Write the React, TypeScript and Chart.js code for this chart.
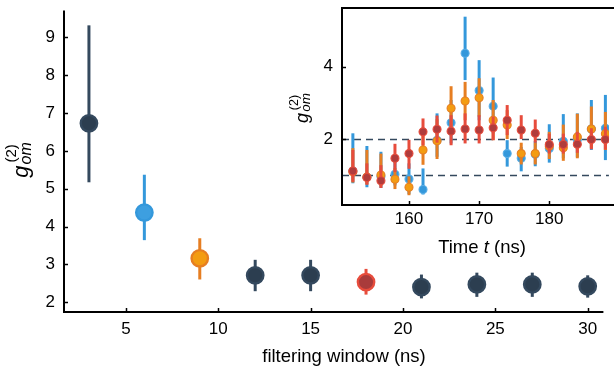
import React, { useEffect, useRef } from "react";
import { Chart, registerables } from "chart.js";
Chart.register(...registerables);

// ---------- main panel data ----------
const windows = [3, 6, 9, 12, 15, 18, 21, 24, 27, 30];
const g2Main = [6.73, 4.37, 3.16, 2.71, 2.71, 2.53, 2.4, 2.47, 2.47, 2.42];
const g2MainLow = [5.17, 3.64, 2.6, 2.29, 2.29, 2.2, 2.1, 2.14, 2.14, 2.12];
const g2MainHigh = [9.32, 5.37, 3.69, 3.12, 3.12, 2.88, 2.73, 2.78, 2.78, 2.71];
const mainXTicks = [5, 10, 15, 20, 25, 30];
const mainYTicks = [2, 3, 4, 5, 6, 7, 8, 9];

// ---------- inset data ----------
const times = [152, 154, 156, 158, 160, 162, 164, 166, 168, 170, 172, 174, 176, 178, 180, 182, 184, 186, 188];
const blueG2 = [1.12, 0.95, 0.97, 1.03, 0.9, 0.61, 1.97, 2.45, 4.37, 3.34, 2.91, 1.6, 1.47, 1.58, 1.74, 1.94, 1.98, 2.28, 2.3];
const blueLow = [0.78, 0.67, 0.65, 0.72, 0.48, 0.47, 1.51, 1.88, 3.63, 2.52, 2.16, 1.24, 1.11, 1.25, 1.35, 1.47, 1.5, 1.7, 1.42];
const blueHigh = [2.16, 1.81, 1.65, 1.4, 1.33, 1.19, 2.71, 3.08, 5.38, 4.18, 3.7, 1.97, 1.78, 1.95, 2.41, 2.69, 2.71, 3.08, 3.22];
const orangeG2 = [1.1, 0.95, 1.01, 0.89, 0.67, 1.7, 1.95, 2.85, 3.05, 3.14, 2.52, 2.39, 1.6, 1.6, 1.8, 1.76, 2.06, 2.28, 2.15];
const orangeLow = [0.8, 0.75, 0.7, 0.62, 0.45, 1.29, 1.45, 2.25, 2.52, 2.62, 1.97, 2.0, 1.3, 1.3, 1.45, 1.4, 1.47, 1.75, 1.7];
const orangeHigh = [1.75, 1.7, 1.6, 1.2, 0.97, 2.11, 2.55, 3.46, 3.58, 3.68, 3.08, 2.8, 1.9, 1.9, 2.2, 2.4, 2.7, 2.9, 2.75];
const redG2 = [1.12, 0.94, 0.85, 1.47, 1.6, 2.2, 2.27, 2.22, 2.28, 2.25, 2.31, 2.52, 2.25, 2.16, 1.85, 1.85, 1.86, 1.99, 1.99];
const redLow = [0.82, 0.74, 0.65, 1.09, 1.18, 1.83, 1.9, 1.83, 1.88, 1.88, 1.97, 2.11, 2.0, 1.9, 1.6, 1.6, 1.62, 1.72, 1.71];
const redHigh = [1.7, 1.33, 1.28, 1.87, 1.98, 2.57, 2.65, 2.66, 2.71, 2.66, 2.62, 2.94, 2.66, 2.54, 2.15, 2.15, 2.2, 2.3, 2.34];
const insetXTicks = [160, 170, 180];
const insetYTicks = [2, 4];
const insetRefLines = [1, 2];

// ---------- styles ----------
const FONT = '"Liberation Sans", Arial, Helvetica, sans-serif';
const TICK_SIZE = 17;
const TITLE_SIZE = 18.5;
const DARK = { fill: "#2c3e50", ring: "#34495e", bar: "#34495e" };
const BLUE = { fill: "#3d9fe0", ring: "#3498db", bar: "#3498db" };
const ORANGE = { fill: "#f39c12", ring: "#e67e22", bar: "#e67e22" };
const RED = { fill: "#a93b3b", ring: "#e74c3c", bar: "#e74c3c" };
const mainPointStyles = [DARK, BLUE, ORANGE, DARK, DARK, RED, DARK, DARK, DARK, DARK];

type Bars = { x: number[]; low: number[]; high: number[]; color: string | string[]; width: number };

function errorBars(bars: Bars[]) {
  return {
    id: "errbars",
    beforeDatasetDraw(chart: any, args: any) {
      const b = bars[args.index];
      if (!b) return;
      const { ctx, scales } = chart;
      const xs = scales.x, ys = scales.y;
      ctx.save();
      ctx.lineWidth = b.width;
      ctx.lineCap = "butt";
      b.x.forEach((xv, i) => {
        ctx.strokeStyle = Array.isArray(b.color) ? b.color[i] : b.color;
        const px = xs.getPixelForValue(xv);
        ctx.beginPath();
        ctx.moveTo(px, ys.getPixelForValue(b.low[i]));
        ctx.lineTo(px, ys.getPixelForValue(b.high[i]));
        ctx.stroke();
      });
      ctx.restore();
    },
  };
}

function drawG2Label(ctx: CanvasRenderingContext2D, bx: number, cy: number, gSize: number, subSize: number, supSize: number) {
  ctx.save();
  ctx.translate(bx, cy);
  ctx.rotate(-Math.PI / 2);
  ctx.fillStyle = "#000";
  ctx.textBaseline = "alphabetic";
  ctx.textAlign = "left";
  ctx.font = `italic ${gSize}px ${FONT}`;
  const wg = ctx.measureText("g").width;
  ctx.font = `italic ${subSize}px ${FONT}`;
  const wom = ctx.measureText("om").width;
  ctx.font = `${supSize}px ${FONT}`;
  const w2 = ctx.measureText("(2)").width;
  const total = wg + 1 + Math.max(wom, w2);
  const x0 = -total / 2;
  ctx.font = `italic ${gSize}px ${FONT}`;
  ctx.fillText("g", x0, 0);
  ctx.font = `italic ${subSize}px ${FONT}`;
  ctx.fillText("om", x0 + wg + 1, gSize * 0.12);
  ctx.font = `${supSize}px ${FONT}`;
  ctx.fillText("(2)", x0 + wg + 1 + (wom - w2) / 2, -gSize * 0.55);
  ctx.restore();
}

function inwardTicks(chart: any, xTicks: number[], yTicks: number[], len: number) {
  const { ctx, chartArea, scales } = chart;
  ctx.save();
  ctx.strokeStyle = "#000";
  ctx.lineWidth = 1.5;
  xTicks.forEach((v) => {
    const px = Math.round(scales.x.getPixelForValue(v)) + 0.5;
    ctx.beginPath();
    ctx.moveTo(px, chartArea.bottom);
    ctx.lineTo(px, chartArea.bottom - len);
    ctx.stroke();
  });
  yTicks.forEach((v) => {
    const py = Math.round(scales.y.getPixelForValue(v)) + 0.5;
    ctx.beginPath();
    ctx.moveTo(chartArea.left, py);
    ctx.lineTo(chartArea.left + len, py);
    ctx.stroke();
  });
  ctx.restore();
}

const mainDecor = {
  id: "mainDecor",
  afterDraw(chart: any) {
    const { ctx, chartArea } = chart;
    inwardTicks(chart, mainXTicks, mainYTicks, 4);
    ctx.save();
    ctx.strokeStyle = "#000";
    ctx.lineWidth = 2;
    ctx.beginPath();
    ctx.moveTo(chartArea.left, chartArea.top);
    ctx.lineTo(chartArea.left, chartArea.bottom);
    ctx.lineTo(chartArea.right, chartArea.bottom);
    ctx.stroke();
    ctx.fillStyle = "#000";
    ctx.font = `${TITLE_SIZE}px ${FONT}`;
    ctx.textAlign = "center";
    ctx.textBaseline = "middle";
    ctx.fillText("filtering window (ns)", 344, 357);
    ctx.restore();
    drawG2Label(ctx, 28, 160, 22, 16, 15);
  },
};

const insetDecor = {
  id: "insetDecor",
  beforeDraw(chart: any) {
    const { ctx, chartArea } = chart;
    ctx.save();
    ctx.fillStyle = "#fff";
    ctx.fillRect(chartArea.left, chartArea.top, chartArea.right - chartArea.left, chartArea.bottom - chartArea.top);
    ctx.restore();
  },
  beforeDatasetsDraw(chart: any) {
    const { ctx, chartArea, scales } = chart;
    ctx.save();
    ctx.strokeStyle = "#34495e";
    ctx.lineWidth = 1.6;
    ctx.setLineDash([7, 5]);
    insetRefLines.forEach((v) => {
      const py = Math.round(scales.y.getPixelForValue(v)) + 0.5;
      ctx.beginPath();
      ctx.moveTo(chartArea.left, py);
      ctx.lineTo(chartArea.right, py);
      ctx.stroke();
    });
    ctx.restore();
  },
  afterDraw(chart: any) {
    const { ctx, chartArea } = chart;
    inwardTicks(chart, insetXTicks, insetYTicks, 4);
    ctx.save();
    ctx.strokeStyle = "#000";
    ctx.lineWidth = 2;
    ctx.strokeRect(chartArea.left, chartArea.top, chartArea.right - chartArea.left + 10, chartArea.bottom - chartArea.top);
    ctx.fillStyle = "#000";
    ctx.textBaseline = "middle";
    ctx.textAlign = "left";
    ctx.font = `${TITLE_SIZE}px ${FONT}`;
    const a = "Time ";
    const c = " (ns)";
    const wa = ctx.measureText(a).width;
    const wc = ctx.measureText(c).width;
    ctx.font = `italic ${TITLE_SIZE}px ${FONT}`;
    const wb = ctx.measureText("t").width;
    const cx = 482 - 280;
    let x = cx - (wa + wb + wc) / 2;
    ctx.font = `${TITLE_SIZE}px ${FONT}`;
    ctx.fillText(a, x, 248);
    x += wa;
    ctx.font = `italic ${TITLE_SIZE}px ${FONT}`;
    ctx.fillText("t", x, 248);
    x += wb;
    ctx.font = `${TITLE_SIZE}px ${FONT}`;
    ctx.fillText(c, x, 248);
    ctx.restore();
    drawG2Label(ctx, 308 - 280, 108, 18, 13.5, 12.5);
  },
};

function axis(min: number, max: number, ticks: number[], size: number, horizontal: boolean, pad: number) {
  return {
    type: "linear" as const,
    min,
    max,
    grid: { display: false, drawTicks: false },
    border: { display: false },
    ticks: { color: "#000", font: { family: FONT, size: TICK_SIZE }, padding: pad, autoSkip: false, maxRotation: 0 },
    afterBuildTicks: (s: any) => {
      s.ticks = ticks.map((v) => ({ value: v }));
    },
    afterFit: (s: any) => {
      if (horizontal) s.height = size;
      else s.width = size;
      s.paddingTop = 0;
      s.paddingBottom = 0;
      s.paddingLeft = 0;
      s.paddingRight = 0;
    },
  };
}

export default function App() {
  const mainRef = useRef<HTMLCanvasElement>(null);
  const insetRef = useRef<HTMLCanvasElement>(null);

  useEffect(() => {
    const main = new Chart(mainRef.current!, {
      type: "scatter",
      data: {
        datasets: [
          {
            data: windows.map((x, i) => ({ x, y: g2Main[i] })),
            pointRadius: 8.2,
            pointBorderWidth: 2.4,
            pointBackgroundColor: mainPointStyles.map((s) => s.fill),
            pointBorderColor: mainPointStyles.map((s) => s.ring),
            pointHoverRadius: 8.2,
          },
        ],
      },
      options: {
        animation: false,
        responsive: false,
        events: [],
        layout: { padding: { top: 8, right: 0, left: 0, bottom: 0 } },
        plugins: { legend: { display: false }, tooltip: { enabled: false } },
        scales: {
          x: axis(1.65, 30.85, mainXTicks, 58, true, 7),
          y: axis(1.74, 9.71, mainYTicks, 64, false, 9),
        },
      },
      plugins: [
        errorBars([{ x: windows, low: g2MainLow, high: g2MainHigh, color: mainPointStyles.map((s) => s.bar), width: 3 }]),
        mainDecor,
      ],
    });

    const series = [
      { v: blueG2, lo: blueLow, hi: blueHigh, st: BLUE },
      { v: orangeG2, lo: orangeLow, hi: orangeHigh, st: ORANGE },
      { v: redG2, lo: redLow, hi: redHigh, st: RED },
    ];
    const insetFill = ["#3498db", "#f39c12", "#b03c3c"];
    const insetRing = ["#5aaee6", "#e67e22", "#e74c3c"];
    const inset = new Chart(insetRef.current!, {
      type: "scatter",
      data: {
        datasets: series.map((s, k) => ({
          data: times.map((x, i) => ({ x, y: s.v[i] })),
          order: series.length - k,
          pointRadius: 4,
          pointBorderWidth: 1.1,
          pointBackgroundColor: insetFill[k],
          pointBorderColor: insetRing[k],
          pointHoverRadius: 4,
        })),
      },
      options: {
        animation: false,
        responsive: false,
        events: [],
        layout: { padding: { top: 8, right: 0, left: 0, bottom: 0 } },
        plugins: { legend: { display: false }, tooltip: { enabled: false } },
        scales: {
          x: axis(150.45, 188.5, insetXTicks, 57, true, 4),
          y: axis(0.18, 5.62, insetYTicks, 62, false, 9),
        },
      },
      plugins: [
        errorBars(series.map((s) => ({ x: times, low: s.lo, high: s.hi, color: s.st.bar, width: 3 }))),
        insetDecor,
      ],
    });

    return () => {
      main.destroy();
      inset.destroy();
    };
  }, []);

  return (
    <div style={{ position: "fixed", left: 0, top: 0, width: 614, height: 370, background: "#fff", overflow: "hidden" }}>
      <canvas ref={mainRef} width={614} height={370} style={{ position: "absolute", left: 0, top: 0, width: 614, height: 370 }} />
      <canvas ref={insetRef} width={334} height={262} style={{ position: "absolute", left: 280, top: 0, width: 334, height: 262 }} />
    </div>
  );
}
